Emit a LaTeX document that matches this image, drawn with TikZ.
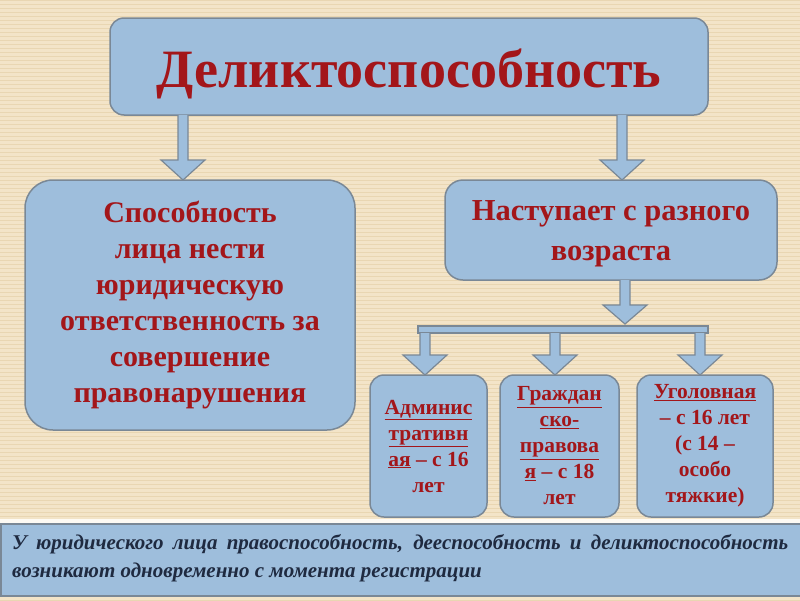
\documentclass[tikz,border=0pt]{standalone}
\usepackage{fontspec}
\setmainfont{Liberation Serif}
\usetikzlibrary{calc}
\definecolor{bg}{HTML}{F3E4C8}
\definecolor{bgline}{HTML}{E9D6B2}
\definecolor{boxf}{HTML}{9EBEDC}
\definecolor{boxd}{HTML}{7A8896}
\definecolor{txt}{HTML}{A3161A}
\definecolor{btxt}{HTML}{1F2A40}
\tikzset{
  box/.style={draw=boxd, line width=1.5pt, fill=boxf, rounded corners=14pt, text=txt, font=\bfseries, align=center, inner sep=2pt},
  barrow/.style={draw=boxd, line width=1.2pt, fill=boxf, line join=miter}
}
\newcommand{\barr}[4]{% x, ytop, yhead, ytip
  \filldraw[barrow] (#1-5,#2) -- (#1-5,#3) -- (#1-22,#3) -- (#1,#4) -- (#1+22,#3) -- (#1+5,#3) -- (#1+5,#2);}
\begin{document}
\begin{tikzpicture}[x=1pt,y=-1pt]
\useasboundingbox (0,0) rectangle (800,600);
\fill[bg] (0,0) rectangle (800,600);
\foreach \i in {0,4,...,600} \draw[bgline, line width=1pt] (0,\i) -- (800,\i);
% title
\node[box, minimum width=598pt, minimum height=97pt] (title) at (409,66.5) {};
\node[text=txt, font=\bfseries\fontsize{54}{58}\selectfont] (tt) at (409,74) {Деликтоспособность};
% left box
\node[box, minimum width=330pt, minimum height=250pt, rounded corners=28pt, font=\bfseries\fontsize{30}{36}\selectfont] (left) at (190,305) {Способность\\лица нести\\юридическую\\ответственность за\\совершение\\правонарушения};
% right box
\node[box, minimum width=332pt, minimum height=100pt, rounded corners=18pt] (right) at (611,230) {};
\node[text=txt, align=center, font=\bfseries\fontsize{30.5}{40}\selectfont] (rt) at (611,234) {Наступает с разного\\возраста};
% arrows from title
\barr{183}{115}{160}{180}
\barr{622}{115}{160}{180}
\barr{625}{280}{305}{324}
% bar
\filldraw[barrow] (418,326) rectangle (708,333);
\barr{425}{333}{355}{375}
\barr{555}{333}{355}{375}
\barr{700}{333}{355}{375}
% small boxes
\tikzset{sbox/.style={box, minimum height=142pt, rounded corners=14pt, font=\bfseries\fontsize{21.5}{26}\selectfont}}
\node[sbox, minimum width=117pt] (a) at (428.5,446) {\underline{Админис}\\\underline{тративн}\\\underline{ая} – с 16\\лет};
\node[sbox, minimum width=119pt] (b) at (559.5,446) {\underline{Граждан}\\\underline{ско-}\\\underline{правова}\\\underline{я} – с 18\\лет};
\node[sbox, minimum width=136pt] (c) at (705,446) {\underline{Уголовная}\\– с 16 лет\\(с 14 –\\особо\\тяжкие)};
% bottom
\fill[white!80!bg] (0,519) rectangle (800,523);
\node[draw=boxd, line width=1.5pt, fill=boxf, minimum width=800pt, minimum height=72pt, anchor=north west, inner sep=0pt] (bot) at (0,523) {};
\node[text=btxt, font=\bfseries\itshape\fontsize{21}{28}\selectfont, text width=776pt, align=justify, anchor=west, inner sep=0pt] (bt) at (12,558) {У юридического лица правоспособность, дееспособность и деликтоспособность возникают одновременно с момента регистрации};
\end{tikzpicture}
\end{document}
